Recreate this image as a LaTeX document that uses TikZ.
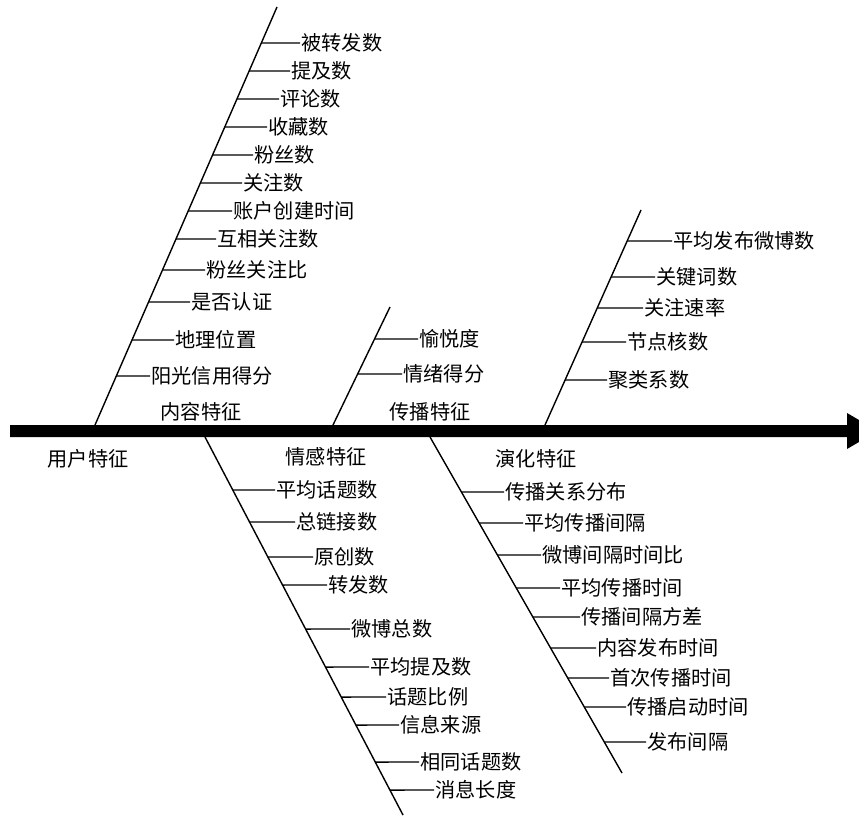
\documentclass[tikz,border=0pt]{standalone}
\usepackage{fontspec}
\newfontfamily\cjk{Noto Sans CJK SC}
\usetikzlibrary{calc}
\tikzset{
  lbl/.style={font=\cjk\fontsize{20.2}{22}\selectfont, inner sep=0pt, outer sep=1.5pt, anchor=west, text height=17pt, text depth=2.6pt},
  cat/.style={font=\cjk\fontsize{20.2}{22}\selectfont, inner sep=0pt, text height=17pt, text depth=2.6pt},
  bone/.style={line width=1.4pt, black},
  tk/.style={line width=1.4pt, black}
}
\newcommand\fbtick[6]{%
  \coordinate (#3p) at (intersection of #1--#2 and 0,#4--1,#4);
  \node[lbl] (#3) at (#5,#4) {#6};
  \draw[tk] (#3p) -- (#3.west);
}
\begin{document}
\begin{tikzpicture}[x=1pt,y=-1pt]
\useasboundingbox (0,0) rectangle (859,816);
% spine
\fill[black] (10,425) -- (847,425) -- (847,413) -- (859,420) -- (859,442) -- (847,449) -- (847,437) -- (10,437) -- cycle;
% branch end points
\coordinate (B1b) at (95,425);  \coordinate (B1t) at (277,7);
\coordinate (B2b) at (333,425); \coordinate (B2t) at (390,307);
\coordinate (B3b) at (545,425); \coordinate (B3t) at (641,210);
\coordinate (B4t) at (205,437); \coordinate (B4b) at (403,815);
\coordinate (B5t) at (430,437); \coordinate (B5b) at (622,773);
\draw[bone] (B1b) -- (B1t);
\draw[bone] (B2b) -- (B2t);
\draw[bone] (B3b) -- (B3t);
\draw[bone] (B4t) -- (B4b);
\draw[bone] (B5t) -- (B5b);
% category labels
\node[cat] (c1) at (201,412) {内容特征};
\node[cat] (c2) at (430,412) {传播特征};
\node[cat] (c3) at (88,459) {用户特征};
\node[cat] (c4) at (326,457) {情感特征};
\node[cat] (c5) at (536,459) {演化特征};
% branch 1
\fbtick{B1b}{B1t}{a1}{43}{300}{被转发数}
\fbtick{B1b}{B1t}{a2}{71}{290}{提及数}
\fbtick{B1b}{B1t}{a3}{99}{279}{评论数}
\fbtick{B1b}{B1t}{a4}{127}{267}{收藏数}
\fbtick{B1b}{B1t}{a5}{155}{253}{粉丝数}
\fbtick{B1b}{B1t}{a6}{183}{242}{关注数}
\fbtick{B1b}{B1t}{a7}{211}{232}{账户创建时间}
\fbtick{B1b}{B1t}{a8}{239}{216}{互相关注数}
\fbtick{B1b}{B1t}{a9}{270}{205}{粉丝关注比}
\fbtick{B1b}{B1t}{a10}{302}{190}{是否认证}
\fbtick{B1b}{B1t}{a11}{340}{174}{地理位置}
\fbtick{B1b}{B1t}{a12}{376}{150}{阳光信用得分}
% branch 2
\fbtick{B2b}{B2t}{b1}{339}{418}{愉悦度}
\fbtick{B2b}{B2t}{b2}{374}{402}{情绪得分}
% branch 3
\fbtick{B3b}{B3t}{d1}{241}{672}{平均发布微博数}
\fbtick{B3b}{B3t}{d2}{277}{655}{关键词数}
\fbtick{B3b}{B3t}{d3}{308}{643}{关注速率}
\fbtick{B3b}{B3t}{d4}{342}{626}{节点核数}
\fbtick{B3b}{B3t}{d5}{380}{607}{聚类系数}
% branch 4
\fbtick{B4t}{B4b}{e1}{490}{275}{平均话题数}
\fbtick{B4t}{B4b}{e2}{522}{295}{总链接数}
\fbtick{B4t}{B4b}{e3}{557}{313}{原创数}
\fbtick{B4t}{B4b}{e4}{585}{327}{转发数}
\fbtick{B4t}{B4b}{e5}{629}{350}{微博总数}
\fbtick{B4t}{B4b}{e6}{667}{369}{平均提及数}
\fbtick{B4t}{B4b}{e7}{697}{386}{话题比例}
\fbtick{B4t}{B4b}{e8}{725}{399}{信息来源}
\fbtick{B4t}{B4b}{e9}{762}{419}{相同话题数}
\fbtick{B4t}{B4b}{e10}{790}{434}{消息长度}
% branch 5
\fbtick{B5t}{B5b}{f1}{492}{504}{传播关系分布}
\fbtick{B5t}{B5b}{f2}{523}{523}{平均传播间隔}
\fbtick{B5t}{B5b}{f3}{555}{541}{微博间隔时间比}
\fbtick{B5t}{B5b}{f4}{588}{560}{平均传播时间}
\fbtick{B5t}{B5b}{f5}{617}{580}{传播间隔方差}
\fbtick{B5t}{B5b}{f6}{648}{596}{内容发布时间}
\fbtick{B5t}{B5b}{f7}{678}{609}{首次传播时间}
\fbtick{B5t}{B5b}{f8}{707}{626}{传播启动时间}
\fbtick{B5t}{B5b}{f9}{742}{646}{发布间隔}
\end{tikzpicture}
\end{document}
